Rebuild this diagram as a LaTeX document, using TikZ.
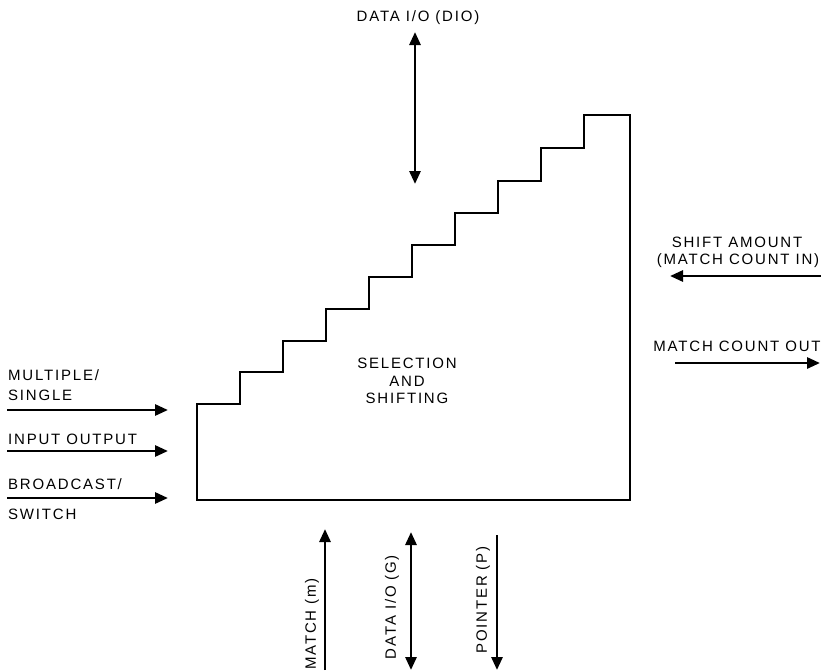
\documentclass[tikz,border=0pt]{standalone}
\usepackage{fontspec}
\setmainfont{Liberation Sans}[LetterSpace=12]
\usetikzlibrary{arrows.meta}
\tikzset{
  wire/.style={line width=2.8pt, -{Triangle[length=13pt,width=11pt]}},
  biwire/.style={line width=2.8pt, {Triangle[length=13pt,width=11pt]}-{Triangle[length=13pt,width=11pt]}},
  lbl/.style={font=\fontsize{15}{17.5}\selectfont, inner sep=0pt, align=left},
  clbl/.style={font=\fontsize{15}{17.5}\selectfont, inner sep=0pt, align=center},
}
\begin{document}
\begin{tikzpicture}[x=1pt,y=-1pt]
\useasboundingbox (0,0) rectangle (821,670);
% staircase block
\draw[line width=2.8pt, line join=miter]
  (197,500) -- (197,404) -- (240,404) -- (240,372) -- (283,372) -- (283,341)
  -- (326,341) -- (326,309) -- (369,309) -- (369,277) -- (412,277) -- (412,245)
  -- (455,245) -- (455,213) -- (498,213) -- (498,181) -- (541,181) -- (541,148)
  -- (584,148) -- (584,115) -- (630,115) -- (630,500) -- cycle;
\node[clbl] (core) at (407,381) {SELECTION\\AND\\SHIFTING};
% top
\node[clbl] (dio) at (418,18) {DATA I/O (DIO)};
\coordinate (dioA) at (415,32);
\coordinate (dioB) at (415,184);
\draw[biwire] (dioA) -- (dioB);
% left inputs
\node[lbl, anchor=west] (ms1) at (8,375) {MULTIPLE/};
\node[lbl, anchor=west] (ms2) at (8,395) {SINGLE};
\coordinate (msA) at (7,410); \coordinate (msB) at (168,410);
\draw[wire] (msA) -- (msB);
\node[lbl, anchor=west] (io) at (8,439) {INPUT OUTPUT};
\coordinate (ioA) at (7,451); \coordinate (ioB) at (168,451);
\draw[wire] (ioA) -- (ioB);
\node[lbl, anchor=west] (bs1) at (8,484) {BROADCAST/};
\node[lbl, anchor=west] (bs2) at (8,514) {SWITCH};
\coordinate (bsA) at (7,498); \coordinate (bsB) at (168,498);
\draw[wire] (bsA) -- (bsB);
% right
\node[clbl] (sa1) at (737,242) {SHIFT AMOUNT};
\node[clbl] (sa2) at (738,261) {(MATCH COUNT IN)};
\coordinate (saA) at (821,276); \coordinate (saB) at (670,276);
\draw[wire] (saA) -- (saB);
\node[clbl] (mco) at (737,346) {MATCH COUNT OUT};
\coordinate (mcA) at (675,363); \coordinate (mcB) at (820,363);
\draw[wire] (mcA) -- (mcB);
% bottom
\coordinate (mA) at (325,670); \coordinate (mB) at (325,529);
\draw[wire] (mA) -- (mB);
\node[clbl, rotate=90] (ml) at (312,624) {MATCH (m)};
\coordinate (gA) at (411,532); \coordinate (gB) at (411,670);
\draw[biwire] (gA) -- (gB);
\node[clbl, rotate=90] (gl) at (392,607) {DATA I/O (G)};
\coordinate (pA) at (497,535); \coordinate (pB) at (497,670);
\draw[wire] (pA) -- (pB);
\node[clbl, rotate=90] (pl) at (483,600) {POINTER (P)};
\end{tikzpicture}
\end{document}
